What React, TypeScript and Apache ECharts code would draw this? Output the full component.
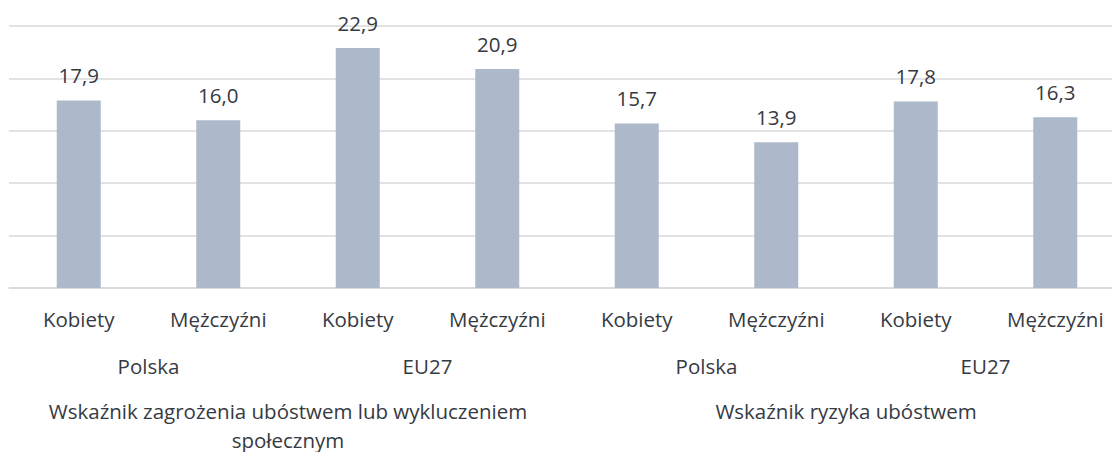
import React, { useEffect, useRef } from "react";
import * as echarts from "echarts";

const categories = ["Kobiety", "Mężczyźni", "Kobiety", "Mężczyźni", "Kobiety", "Mężczyźni", "Kobiety", "Mężczyźni"];
const regions = ["Polska", "EU27", "Polska", "EU27"];
const indicators = ["Wskaźnik zagrożenia ubóstwem lub wykluczeniem\nspołecznym", "Wskaźnik ryzyka ubóstwem"];
const values = [17.9, 16.0, 22.9, 20.9, 15.7, 13.9, 17.8, 16.3];

const FONT = "Open Sans";
const TEXT = "#363a42";

export default function App() {
  const ref = useRef<HTMLDivElement>(null);
  useEffect(() => {
    if (!ref.current) return;
    const chart = echarts.init(ref.current, null, { renderer: "svg" });
    const hiddenAxis = {
      type: "category" as const,
      gridIndex: 0,
      position: "bottom" as const,
      axisLine: { show: false },
      axisTick: { show: false },
      splitLine: { show: false },
    };
    chart.setOption({
      animation: false,
      textStyle: { fontFamily: FONT },
      grid: { left: 9, top: 26, width: 1116, height: 262, containLabel: false, outerBoundsMode: "none" },
      xAxis: [
        {
          type: "category",
          data: categories,
          position: "bottom",
          axisLine: { show: true, lineStyle: { color: "#d9d9d9", width: 1.5 } },
          axisTick: { show: false },
          axisLabel: { interval: 0, margin: 19, fontSize: 20.5, lineHeight: 24, color: TEXT, fontFamily: FONT },
        },
        {
          ...hiddenAxis,
          data: regions,
          axisLabel: { interval: 0, margin: 66, fontSize: 20.5, lineHeight: 24, color: TEXT, fontFamily: FONT },
        },
        {
          ...hiddenAxis,
          data: indicators,
          axisLabel: { interval: 0, margin: 108, fontSize: 20.5, lineHeight: 29, color: TEXT, fontFamily: FONT, align: "center" },
        },
      ],
      yAxis: {
        type: "value",
        min: 0,
        max: 25,
        interval: 5,
        axisLabel: { show: false },
        axisLine: { show: false },
        axisTick: { show: false },
        splitLine: { show: true, lineStyle: { color: "#d9d9d9", width: 1.5 } },
      },
      series: [
        {
          type: "bar",
          xAxisIndex: 0,
          data: values,
          barWidth: 44,
          itemStyle: { color: "#adb9ca" },
          label: {
            show: true,
            position: "top",
            distance: 13,
            fontSize: 20.5,
            lineHeight: 24,
            color: TEXT,
            fontFamily: FONT,
            formatter: (p: any) => p.value.toFixed(1).replace(".", ","),
          },
        },
      ],
    });
    return () => chart.dispose();
  }, []);
  return (
    <div
      ref={ref}
      style={{ position: "fixed", left: 0, top: 0, width: 1112, height: 452, background: "#ffffff" }}
    />
  );
}
